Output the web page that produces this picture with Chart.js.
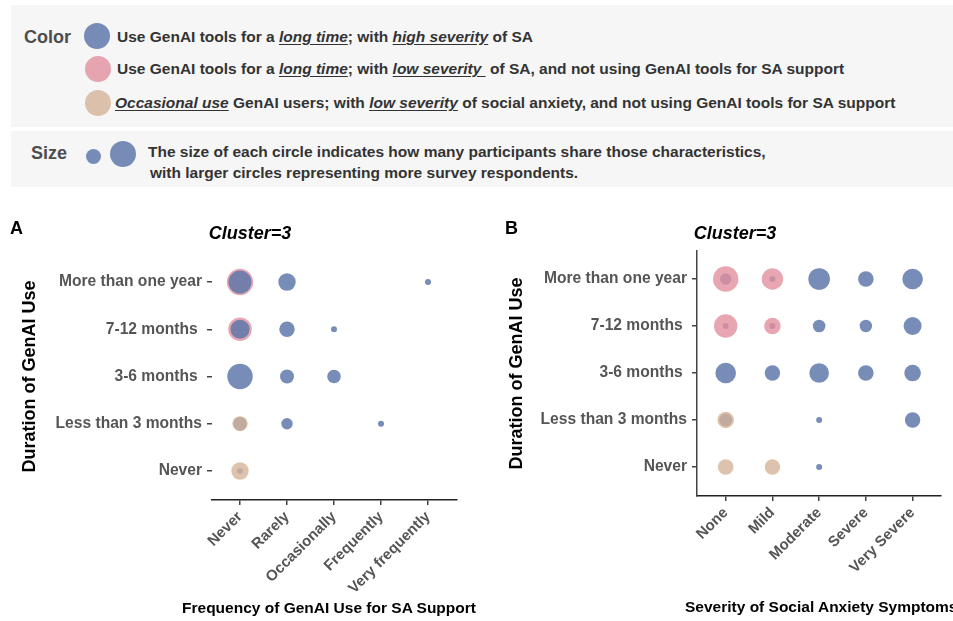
<!DOCTYPE html>
<html>
<head>
<meta charset="utf-8">
<script src="https://cdn.jsdelivr.net/npm/chart.js@4.4.0/dist/chart.umd.min.js"></script>
<style>
  body { margin: 0; background: #fff; font-family: "Liberation Sans", Arial, sans-serif; }
  #page { position: relative; width: 953px; height: 621px; overflow: hidden; }
  .box { position: absolute; left: 11px; width: 950px; background: #f6f6f6; }
  .t { position: absolute; white-space: nowrap; font-weight: bold; }
  .leg { font-size: 15.5px; line-height: 18px; color: #333; }
  .leg u { text-underline-offset: 2px; }
  .dot { position: absolute; border-radius: 50%; }
  canvas { position: absolute; }
</style>
</head>
<body>
<div id="page">
  <div class="box" style="top:5px;height:122px;"></div>
  <div class="box" style="top:131px;height:56px;"></div>

  <div class="t" style="left:24px;top:26px;font-size:18px;line-height:22px;color:#4d4d4d;">Color</div>
  <div class="dot" style="left:84px;top:23px;width:26px;height:26px;background:rgba(95,120,170,0.85);"></div>
  <div class="dot" style="left:85px;top:56px;width:26px;height:26px;background:rgba(226,144,159,0.8);"></div>
  <div class="dot" style="left:85px;top:90px;width:26px;height:26px;background:rgba(212,180,152,0.8);"></div>
  <div class="t leg" style="left:117px;top:28px;">Use GenAI tools for a <u><i>long time</i></u>; with <u><i>high severity</i></u> of SA</div>
  <div class="t leg" style="left:117px;top:60px;">Use GenAI tools for a <u><i>long time</i></u>; with <u><i>low severity </i></u>&nbsp;of SA, and not using GenAI tools for SA support</div>
  <div class="t leg" style="left:115px;top:94px;"><u><i>Occasional use</i></u> GenAI users; with <u><i>low severity</i></u> of social anxiety, and not using GenAI tools for SA support</div>

  <div class="t" style="left:31px;top:142px;font-size:18px;line-height:22px;color:#4d4d4d;">Size</div>
  <div class="dot" style="left:86px;top:149px;width:15px;height:15px;background:rgba(95,120,170,0.85);"></div>
  <div class="dot" style="left:110px;top:141px;width:26px;height:26px;background:rgba(95,120,170,0.85);"></div>
  <div class="t leg" style="left:148px;top:143px;">The size of each circle indicates how many participants share those characteristics,</div>
  <div class="t leg" style="left:150px;top:164px;">with larger circles representing more survey respondents.</div>

  <canvas id="chartA" width="480" height="421" style="left:0;top:200px;"></canvas>
  <canvas id="chartB" width="473" height="421" style="left:480px;top:200px;"></canvas>

  <div class="t" style="left:10px;top:217px;font-size:18px;line-height:22px;color:#000;">A</div>
  <div class="t" style="left:505px;top:217px;font-size:18px;line-height:22px;color:#000;">B</div>
  <div class="t" style="left:150px;width:200px;text-align:center;top:222px;font-size:18px;line-height:22px;font-style:italic;color:#000;">Cluster=3</div>
  <div class="t" style="left:635px;width:200px;text-align:center;top:222px;font-size:18px;line-height:22px;font-style:italic;color:#000;">Cluster=3</div>

  <div class="t" style="left:129px;width:400px;text-align:center;top:598px;font-size:15.5px;line-height:20px;color:#000;">Frequency of GenAI Use for SA Support</div>
  <div class="t" style="left:685px;top:597px;font-size:15.5px;line-height:20px;color:#000;">Severity of Social Anxiety Symptoms</div>
</div>

<script>
// category labels (index 0 = bottom / left)
const durationLabels = ['Never', 'Less than 3 months', '3-6 months ', '7-12 months ', 'More than one year'];
const frequencyLabels = ['Never', 'Rarely', 'Occasionally', 'Frequently', 'Very frequently'];
const severityLabels = ['None', 'Mild', 'Moderate', 'Severe', 'Very Severe'];

// panel A: [frequency index, duration index, bubble radius]
const aBlue = [[0,4,11.5],[1,4,8.7],[4,4,3],[0,3,9.5],[1,3,7.7],[2,3,3],[0,2,12.7],[1,2,7],[2,2,6.8],
               [0,1,6.7],[1,1,5.7],[3,1,3],[0,0,3]];
const aPink = [[0,4,13.2],[0,3,11.8]];
const aTan = [[0,1,7.6],[0,0,8.7]];

// panel B: [severity index, duration index, bubble radius]
const bBlue = [[2,4,10.8],[3,4,7.8],[4,4,10.3],[2,3,6.3],[3,3,6.2],[4,3,9],[0,2,10.3],[1,2,7.7],[2,2,9.8],
               [3,2,7.8],[4,2,8.3],[0,1,6.5],[2,1,3],[4,1,7.7],[2,0,3],[0,4,5.7],[1,4,3],[0,3,3],[1,3,3]];
const bPink = [[0,4,12.7],[1,4,10.7],[0,3,11.7],[1,3,8.3]];
const bTan = [[0,1,8.3],[0,0,7.8],[1,0,7.7]];

const BLUE = 'rgba(95,120,170,0.85)';
const PINK = 'rgba(226,144,159,0.8)';
const TAN = 'rgba(212,180,152,0.8)';

const FONT = '"Liberation Sans", Arial, sans-serif';

function pts(list) {
    return list.map(p => ({x: p[0], y: p[1], r: p[2]}));
}

function ds(list, color) {
    return {data: pts(list), backgroundColor: color, borderWidth: 0, hoverBorderWidth: 0};
}

function makeChart(id, datasets, xLabels, o) {
    new Chart(document.getElementById(id), {
        type: 'bubble',
        data: {datasets: datasets},
        options: {
            responsive: false,
            animation: false,
            layout: {padding: {top: o.top, right: o.right, left: 0, bottom: 0}},
            plugins: {legend: {display: false}, tooltip: {enabled: false}},
            scales: {
                x: {
                    type: 'linear', min: o.xMin, max: o.xMax,
                    afterBuildTicks: s => { s.ticks = [0,1,2,3,4].map(v => ({value: v})); },
                    afterFit: s => { s.height = o.xHeight; },
                    ticks: {
                        callback: v => xLabels[v], minRotation: 45, maxRotation: 45, padding: 3,
                        color: '#555', font: {family: FONT, size: 15, weight: 'bold'}
                    },
                    grid: {drawOnChartArea: false, drawTicks: true, tickLength: 5, color: '#444', lineWidth: 1.5},
                    border: {display: true, color: '#222', width: 1.5}
                },
                y: {
                    type: 'linear', min: o.yMin, max: o.yMax,
                    afterBuildTicks: s => { s.ticks = [0,1,2,3,4].map(v => ({value: v})); },
                    afterFit: s => { s.width = o.yWidth; },
                    ticks: {
                        callback: v => durationLabels[v], padding: 5,
                        color: '#555', font: {family: FONT, size: 15.6, weight: 'bold'}
                    },
                    grid: {drawOnChartArea: false, drawTicks: true, tickLength: 5, color: '#444', lineWidth: 1.5},
                    border: {display: o.yBorder, color: '#444', width: 1.5},
                    title: {
                        display: true, text: 'Duration of GenAI Use', color: '#000',
                        font: {family: FONT, size: 18, weight: 'bold', lineHeight: 1.2},
                        padding: {top: o.yTitlePad, bottom: 0}
                    }
                }
            }
        }
    });
}

// first dataset is drawn on top
makeChart('chartA', [ds(aTan, TAN), ds(aBlue, BLUE), ds(aPink, PINK)], frequencyLabels,
    {top: 53, right: 23, xHeight: 121, yWidth: 212, xMin: -0.596, xMax: 4.617, yMin: -0.614, yMax: 4.614,
     yTitlePad: 19.2, yBorder: false});

makeChart('chartB', [ds(bTan, TAN), ds(bPink, PINK), ds(bBlue, BLUE)], severityLabels,
    {top: 51, right: 10, xHeight: 125, yWidth: 217, xMin: -0.614, xMax: 4.593, yMin: -0.617, yMax: 4.596,
     yTitlePad: 26.2, yBorder: true});
</script>
</body>
</html>
